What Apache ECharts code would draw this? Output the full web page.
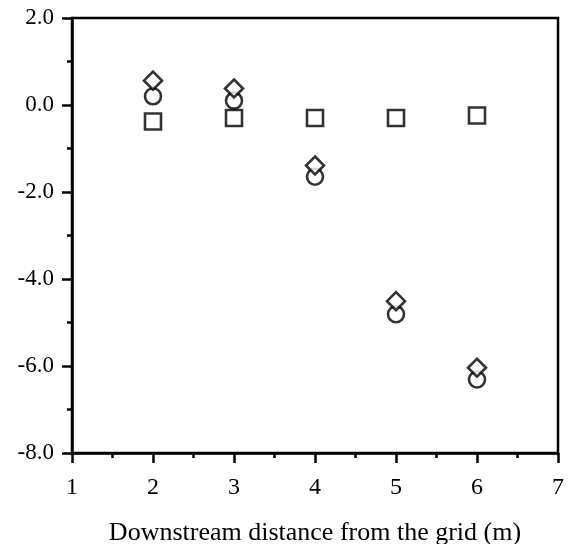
<!DOCTYPE html>
<html>
<head>
<meta charset="utf-8">
<script src="https://cdn.jsdelivr.net/npm/echarts@6/dist/echarts.min.js"></script>
<style>
  html, body { margin: 0; padding: 0; background: #fff; }
  #main { width: 574px; height: 544px; }
</style>
</head>
<body>
<div id="main"></div>
<script>
// 横坐标: 距格栅的下游距离 (m)
let distance = [2, 3, 4, 5, 6];
// 三组测量值
let diamondVals = [0.56, 0.38, -1.39, -4.51, -6.04];
let circleVals = [0.20, 0.10, -1.65, -4.81, -6.31];
let squareVals = [-0.38, -0.30, -0.30, -0.30, -0.24];

let FONT = '"Liberation Serif", "DejaVu Serif", serif';

function pairs(ys) {
    return distance.map((x, i) => [x, ys[i]]);
}

let markerStyle = {
    color: '#fff',
    borderColor: '#000',
    borderWidth: 2.6
};

let myChart = echarts.init(document.getElementById('main'));

let option = {
    backgroundColor: '#fff',
    animation: false,
    grid: {
        left: 72,
        right: 16,
        top: 18,
        bottom: 91,
        outerBoundsMode: 'none',    // 不要自动收缩绘图区
        show: true,
        borderColor: '#000',
        borderWidth: 2.5,
        backgroundColor: 'transparent'
    },
    xAxis: {
        type: 'value',
        min: 1,
        max: 7,
        interval: 1,
        name: 'Downstream distance from the grid (m)',
        nameLocation: 'middle',
        nameGap: 67,
        nameTextStyle: { fontFamily: FONT, fontSize: 26, color: '#000' },
        axisLine: { onZero: false, lineStyle: { color: '#000', width: 2.5 } },
        axisTick: { length: 10, lineStyle: { color: '#000', width: 2.5 } },
        minorTick: { show: true, splitNumber: 2, length: 5, lineStyle: { color: '#000', width: 2.5 } },
        splitLine: { show: false },
        axisLabel: { margin: 23, fontFamily: FONT, fontSize: 24, color: '#000' }
    },
    yAxis: {
        type: 'value',
        min: -8,
        max: 2,
        interval: 2,
        axisLine: { onZero: false, lineStyle: { color: '#000', width: 2.5 } },
        axisTick: { length: 10, lineStyle: { color: '#000', width: 2.5 } },
        minorTick: { show: true, splitNumber: 2, length: 5, lineStyle: { color: '#000', width: 2.5 } },
        splitLine: { show: false },
        axisLabel: {
            margin: 18,
            fontFamily: FONT,
            fontSize: 23,
            color: '#000',
            formatter: v => v.toFixed(1)
        }
    },
    series: [{
        type: 'scatter',
        symbol: 'rect',
        symbolSize: 16,
        data: pairs(squareVals),
        itemStyle: markerStyle
    }, {
        type: 'scatter',
        symbol: 'circle',
        symbolSize: 16,
        data: pairs(circleVals),
        itemStyle: markerStyle
    }, {
        type: 'scatter',
        symbol: 'diamond',
        symbolSize: 18,
        data: pairs(diamondVals),
        itemStyle: markerStyle
    }]
};

myChart.setOption(option);
</script>
</body>
</html>
